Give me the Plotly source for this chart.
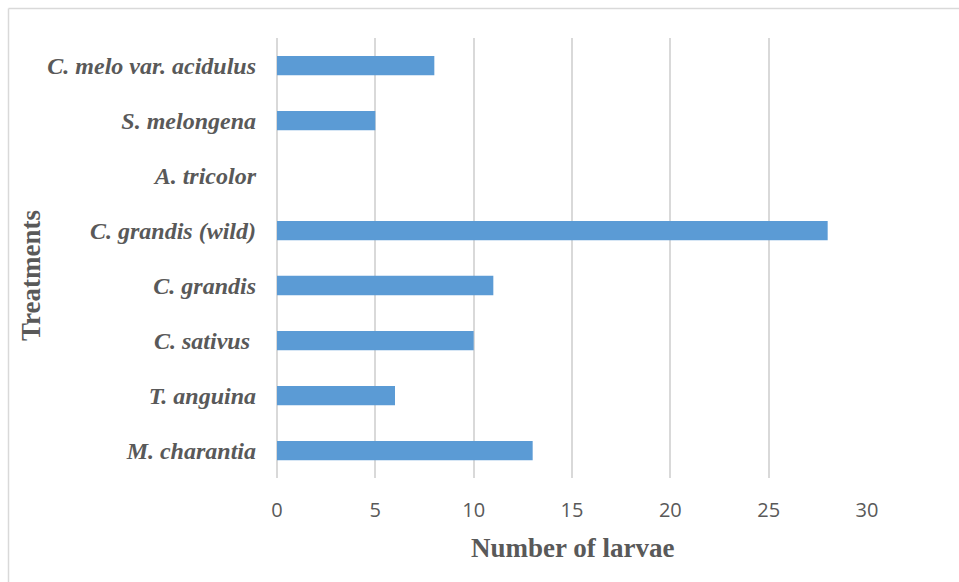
import plotly.graph_objects as go

# Treatments listed bottom-to-top as drawn on the category axis
treatments = ["M. charantia", "T. anguina", "C. sativus ", "C. grandis",
              "C. grandis (wild)", "A. tricolor", "S. melongena",
              "C. melo var. acidulus"]
larvae = [13, 6, 10, 11, 28, 0, 5, 8]
x_ticks = [0, 5, 10, 15, 20, 25, 30]

W, H = 959, 582
ML, MR, MT, MB = 277, 92, 38, 104
PW, PH = W - ML - MR, H - MT - MB

def px_x(p):
    return (p - ML) / PW

def px_y(p):
    return (H - MB - p) / PH

GRAY = "#595959"
GRID = "#d9d9d9"
SERIF = "Liberation Serif, Times New Roman, serif"

fig = go.Figure(go.Bar(
    x=larvae, y=treatments, orientation="h",
    width=0.35,
    marker=dict(color="#5b9bd5", line=dict(width=0)),
    hoverinfo="x+y",
))

fig.update_layout(
    width=W, height=H,
    margin=dict(l=ML, r=MR, t=MT, b=MB),
    paper_bgcolor="white", plot_bgcolor="white",
    showlegend=False,
    xaxis=dict(
        range=[0, 30], tickvals=x_ticks, ticktext=[str(v) for v in x_ticks],
        showgrid=True, gridcolor=GRID, gridwidth=1.5,
        zeroline=True, zerolinecolor=GRID, zerolinewidth=1.5,
        showline=False, ticks="", ticklabelstandoff=18,
        tickfont=dict(family="Open Sans, Liberation Sans, sans-serif",
                      size=20, color=GRAY),
        fixedrange=True,
    ),
    yaxis=dict(
        categoryorder="array", categoryarray=treatments,
        range=[-0.5, len(treatments) - 0.5],
        showgrid=False, zeroline=False, showline=False, ticks="",
        ticklabelstandoff=20,
        tickfont=dict(family=SERIF, size=24, color=GRAY,
                      weight="bold", style="italic"),
        fixedrange=True,
    ),
    annotations=[
        dict(text="<b>Number of larvae</b>", xref="paper", yref="paper",
             x=0.5, y=px_y(548), xanchor="center", yanchor="middle",
             showarrow=False,
             font=dict(family=SERIF, size=27, color=GRAY)),
        dict(text="<b>Treatments</b>", xref="paper", yref="paper",
             x=px_x(31), y=px_y(276), xanchor="center", yanchor="middle",
             textangle=-90, showarrow=False,
             font=dict(family=SERIF, size=27, color=GRAY)),
    ],
    shapes=[
        # chart frame: top and left edges
        dict(type="line", xref="paper", yref="paper",
             x0=px_x(8.5), x1=px_x(W + 5), y0=px_y(8.5), y1=px_y(8.5),
             line=dict(color=GRID, width=1.5)),
        dict(type="line", xref="paper", yref="paper",
             x0=px_x(8.5), x1=px_x(8.5), y0=px_y(8.5), y1=px_y(H + 5),
             line=dict(color=GRID, width=1.5)),
    ],
)

fig.write_html("out.html")
